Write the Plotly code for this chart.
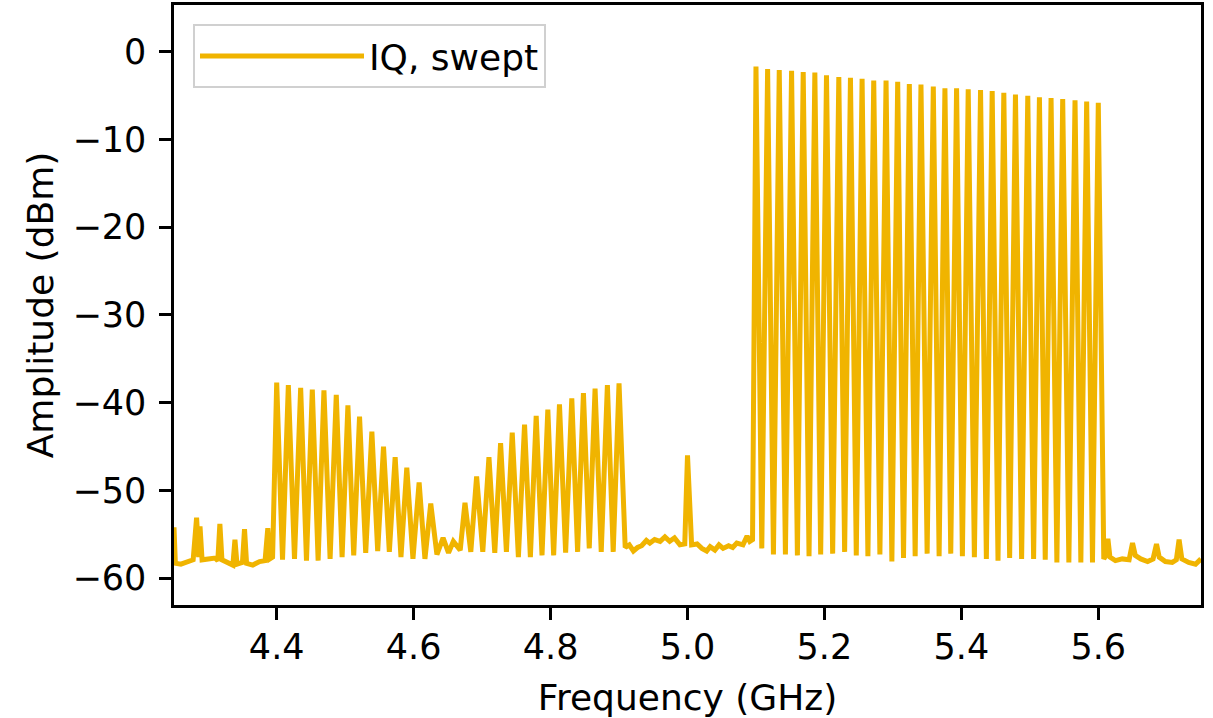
import plotly.graph_objects as go

# ---------------- data ----------------
# noise floor / small spurs, 4.25 - 4.395 GHz
base_a_f = [4.250, 4.252, 4.260, 4.270, 4.278, 4.283, 4.286, 4.288, 4.291, 4.300,
            4.310, 4.314, 4.317, 4.320, 4.330, 4.336, 4.339, 4.342, 4.350, 4.353,
            4.356, 4.365, 4.375, 4.383, 4.387, 4.390, 4.394]
base_a_db = [-54.2, -58.3, -58.4, -58.1, -57.9, -53.1, -57.6, -54.1, -57.9, -57.8,
             -57.7, -58.0, -53.8, -57.9, -58.3, -58.5, -55.6, -58.4, -58.2, -54.4,
             -58.3, -58.5, -58.1, -58.0, -54.3, -57.8, -57.6]

# first comb (lower sideband), 4.400 - 4.625 GHz
comb1_f = [4.400, 4.417, 4.435, 4.452, 4.469, 4.487, 4.504, 4.521, 4.539, 4.556,
           4.573, 4.590, 4.608, 4.625]
comb1_peak = [-37.7, -38.0, -38.3, -38.5, -38.6, -39.1, -40.3, -41.6, -43.3, -45.0,
              -46.2, -47.4, -49.1, -51.5]
comb1_trough = [-57.9, -57.8, -58.0, -58.0, -57.8, -57.6, -57.4, -57.1, -56.9, -57.0,
                -57.6, -57.8, -57.8]

# floor between the two lower combs
base_b_f = [4.634, 4.643, 4.651, 4.658, 4.668]
base_b_db = [-57.3, -55.4, -57.1, -55.8, -56.8]

# second comb, 4.675 - 4.900 GHz
comb2_f = [4.675, 4.692, 4.710, 4.727, 4.744, 4.762, 4.779, 4.796, 4.813, 4.831,
           4.848, 4.865, 4.883, 4.900]
comb2_peak = [-51.4, -48.4, -46.2, -44.6, -43.4, -42.5, -41.5, -40.8, -40.2, -39.5,
              -38.9, -38.4, -38.0, -37.8]
comb2_trough = [-57.0, -57.0, -57.1, -57.0, -57.6, -57.6, -57.4, -57.4, -57.1, -57.0,
                -56.6, -57.0, -57.0]

# floor with carrier leak at 5.0 GHz
base_c_f = [4.909, 4.915, 4.921, 4.927, 4.933, 4.940, 4.945, 4.952, 4.960, 4.967,
            4.974, 4.981, 4.989, 4.996, 5.000, 5.006, 5.014, 5.021, 5.028, 5.033,
            5.040, 5.046, 5.052, 5.060, 5.066, 5.072, 5.081, 5.087, 5.091, 5.095]
base_c_db = [-56.5, -56.2, -56.9, -56.5, -56.3, -55.7, -56.0, -55.6, -55.8, -55.3,
             -55.8, -55.4, -56.2, -56.1, -46.0, -56.2, -56.1, -56.6, -56.9, -56.4,
             -56.8, -56.2, -56.6, -56.3, -56.5, -56.0, -56.2, -55.2, -55.8, -55.6]

# main comb, 5.100 - 5.600 GHz
comb3_f = [5.100, 5.117, 5.134, 5.152, 5.169, 5.186, 5.203, 5.221, 5.238, 5.255,
           5.272, 5.290, 5.307, 5.324, 5.341, 5.359, 5.376, 5.393, 5.410, 5.428,
           5.445, 5.462, 5.479, 5.497, 5.514, 5.531, 5.548, 5.566, 5.583, 5.600]
comb3_peak = [-1.7, -2.0, -2.1, -2.2, -2.35, -2.4, -2.7, -2.9, -3.0, -3.1,
              -3.3, -3.3, -3.45, -3.7, -3.75, -4.0, -4.2, -4.2, -4.3, -4.4,
              -4.5, -4.7, -4.9, -5.05, -5.2, -5.3, -5.4, -5.55, -5.7, -5.85]
comb3_trough = [-56.6, -57.3, -57.3, -57.4, -57.5, -57.3, -57.2, -57.0, -57.4, -57.5,
                -57.3, -58.1, -57.7, -57.5, -57.2, -57.5, -57.2, -57.5, -57.6, -57.8,
                -58.0, -57.7, -57.8, -57.8, -57.9, -58.2, -58.2, -58.2, -58.2]

# floor above the main comb, 5.60 - 5.75 GHz
base_d_f = [5.608, 5.611, 5.614, 5.617, 5.625, 5.635, 5.645, 5.650, 5.654, 5.662,
            5.672, 5.680, 5.685, 5.689, 5.698, 5.708, 5.714, 5.718, 5.722, 5.732,
            5.742, 5.750]
base_d_db = [-57.8, -57.4, -55.5, -57.6, -58.0, -57.8, -57.9, -56.0, -57.4, -57.8,
             -58.1, -57.8, -56.1, -57.6, -58.1, -58.2, -57.9, -55.6, -57.8, -58.2,
             -58.4, -57.8]

x_ticks = [4.4, 4.6, 4.8, 5.0, 5.2, 5.4, 5.6]
x_tick_text = ["4.4", "4.6", "4.8", "5.0", "5.2", "5.4", "5.6"]
y_ticks = [0, -10, -20, -30, -40, -50, -60]

LINE_COLOR = "#F0B400"
FONT = "DejaVu Sans"


def comb(freqs, peaks, troughs):
    xs, ys = [], []
    for k, (f, p) in enumerate(zip(freqs, peaks)):
        xs.append(f)
        ys.append(p)
        if k < len(troughs):
            xs.append((f + freqs[k + 1]) / 2)
            ys.append(troughs[k])
    return xs, ys


freq, amp = [], []
for part in (
    (base_a_f, base_a_db),
    comb(comb1_f, comb1_peak, comb1_trough),
    (base_b_f, base_b_db),
    comb(comb2_f, comb2_peak, comb2_trough),
    (base_c_f, base_c_db),
    comb(comb3_f, comb3_peak, comb3_trough),
    (base_d_f, base_d_db),
):
    freq.extend(part[0])
    amp.extend(part[1])

fig = go.Figure()
fig.add_trace(go.Scatter(
    x=freq, y=amp, mode="lines", name="IQ, swept",
    line=dict(color=LINE_COLOR, width=5),
))

axis_common = dict(
    showline=True, linecolor="black", linewidth=2.5, mirror=True,
    ticks="outside", ticklen=12, tickwidth=2.5, tickcolor="black",
    showgrid=False, zeroline=False, automargin=False,
    tickfont=dict(family=FONT, size=35, color="black"),
)

fig.update_layout(
    width=1213, height=718,
    margin=dict(l=174, r=12, t=5, b=113),
    paper_bgcolor="white", plot_bgcolor="white",
    font=dict(family=FONT, size=35, color="black"),
    showlegend=True,
    legend=dict(
        x=0.0185, y=0.968, xanchor="left", yanchor="top",
        bgcolor="rgba(255,255,255,0.85)", bordercolor="#d0d0d0", borderwidth=2,
        font=dict(family=FONT, size=36, color="black"),
        itemwidth=164,
    ),
    xaxis=dict(
        range=[4.25, 5.75], tickvals=x_ticks, ticktext=x_tick_text,
        title=dict(text="Frequency (GHz)", font=dict(family=FONT, size=36), standoff=23),
        ticklabelstandoff=-3,
        **axis_common,
    ),
    yaxis=dict(
        range=[-63.05, 5.3], tickvals=y_ticks,
        title=dict(text="Amplitude (dBm)", font=dict(family=FONT, size=36), standoff=8),
        ticklabelstandoff=6,
        **axis_common,
    ),
)

fig.write_html("out.html", config={"displayModeBar": False},
               post_script="document.body.style.margin='0';")
